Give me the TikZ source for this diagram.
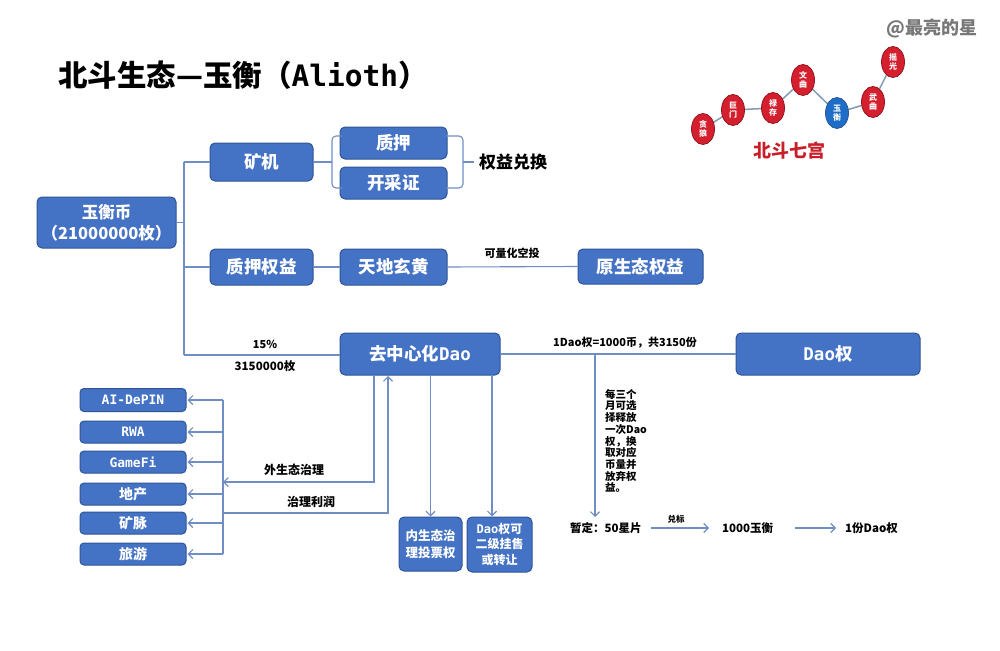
\documentclass[tikz,border=0pt]{standalone}
\usepackage{fontspec}
\setmainfont{Noto Sans CJK SC}
\newfontfamily\monof{DejaVu Sans Mono}
\usetikzlibrary{arrows.meta,shapes.geometric}
\definecolor{boxblue}{RGB}{68,114,196}
\definecolor{boxborder}{RGB}{47,85,151}
\definecolor{linec}{RGB}{112,142,196}
\definecolor{starred}{RGB}{212,32,46}
\definecolor{starborder}{RGB}{150,20,30}
\definecolor{starblue}{RGB}{30,110,200}
\definecolor{starline}{RGB}{130,155,180}
\definecolor{titlered}{RGB}{200,30,40}
\definecolor{wmgray}{RGB}{120,120,120}
\newcommand{\fsz}[1]{\fontsize{#1}{#1}\selectfont}
\newcommand{\mo}[1]{{\monof\bfseries #1}}
\tikzset{
  bbox/.style={draw=boxborder, line width=1pt, fill=boxblue, rounded corners=5pt, text=white, font=\bfseries, inner sep=0pt, align=center},
  conn/.style={draw=linec, line width=1.1pt},
  arr/.style={draw=linec, line width=1.1pt, -{Straight Barb[length=4.5pt,width=9pt]}},
  lbl/.style={font=\bfseries, text=black, inner sep=0pt},
  star/.style={ellipse, draw=starborder, line width=0.8pt, fill=starred, minimum width=23pt, minimum height=31pt, inner sep=0pt, text=white, font=\bfseries\fontsize{8}{9}\selectfont, align=center},
  starconn/.style={draw=starline, line width=1.5pt}
}
\begin{document}
\begin{tikzpicture}[x=1pt,y=-1pt]
\useasboundingbox[fill=white] (0,0) rectangle (1000,650);

% title and signature
\node[lbl, anchor=west] (title) at (58,75) {\fsz{29.5}北斗生态—玉衡（\mo{Alioth}）};
\node[font=\bfseries, text=wmgray, inner sep=0pt] (sig) at (932,28) {\fsz{18}@最亮的星};

% star chart
\draw[starline, line width=1.5pt] (703,129) -- (733,110) -- (773,108) -- (803,80) -- (837,113) -- (873,102) -- (893,62);
\node[star] (s1) at (703,129) {贪\\狼};
\node[star] (s2) at (733,110) {巨\\门};
\node[star] (s3) at (773,108) {禄\\存};
\node[star] (s4) at (803,80) {文\\曲};
\node[star, fill=starblue, draw=boxborder] (s5) at (837,113) {玉\\衡};
\node[star] (s6) at (873,102) {武\\曲};
\node[star] (s7) at (893,62) {摇\\光};
\node[font=\bfseries, text=titlered, inner sep=0pt] (bdqg) at (789,151) {\fsz{18}北斗七宫};

% main boxes
\node[bbox, minimum width=139pt, minimum height=51pt, font=\bfseries\fontsize{16.5}{21}\selectfont] (coin) at (106.5,222.5) {玉衡币\\（21000000枚）};
\node[bbox, minimum width=103pt, minimum height=38pt] (miner) at (261.5,162) {\fsz{17.5}矿机};
\node[bbox, minimum width=107pt, minimum height=32pt] (pledge) at (393.5,143) {\fsz{17.5}质押};
\node[bbox, minimum width=107pt, minimum height=32pt] (cert) at (393.5,183) {\fsz{17.5}开采证};
\node[bbox, minimum width=103pt, minimum height=36pt] (pright) at (261.5,267) {\fsz{17.5}质押权益};
\node[bbox, minimum width=107pt, minimum height=36pt] (tdxh) at (393.5,267) {\fsz{17.5}天地玄黄};
\node[bbox, minimum width=125pt, minimum height=35pt] (native) at (640.5,266.5) {\fsz{17.5}原生态权益};
\node[bbox, minimum width=160pt, minimum height=42pt] (dao) at (420,354) {\fsz{17.5}去中心化\mo{Dao}};
\node[bbox, minimum width=184pt, minimum height=42pt] (daoq) at (828,354) {\fsz{17.5}\mo{Dao}权};

% exchange label
\node[lbl, anchor=west] (exch) at (479,162) {\fsz{17}权益兑换};

% brackets
\draw[conn, rounded corners=4pt] (342,136) -- (332,136) -- (332,188) -- (342,188);
\draw[conn, rounded corners=4pt] (446,136) -- (463,136) -- (463,188) -- (446,188);
\coordinate (lb) at (332,162);
\coordinate (rb) at (463,162);
\draw[conn] (miner.east) -- (lb);
\draw[conn] (rb) -- (474,162);

% trunk
\coordinate (t1) at (184,162);
\coordinate (t2) at (184,267);
\coordinate (t3) at (184,355);
\draw[conn] (t1) -- (t3);
\draw[conn] (coin.east) -- (coin.east -| t1);
\draw[conn] (t1) -- (miner.west);
\draw[conn] (t2) -- (pright.west);
\draw[conn] (t3) -- (dao.west |- t3);
\node[lbl] (p15) at (265,344) {\fsz{11}15\%};
\node[lbl] (n315) at (265,366) {\fsz{11.5}3150000枚};

\draw[conn] (pright.east) -- (tdxh.west);
\draw[conn] (tdxh.east) -- (native.west);
\node[lbl] (kl) at (512,253) {\fsz{11}可量化空投};

% Dao to Dao权
\draw[conn] (dao.east) -- (daoq.west);
\node[lbl] (dlbl) at (625,343) {\fsz{11}1Dao权=1000币，共3150份};
\coordinate (d1) at (595,355);
\coordinate (d2) at (595,517);
\draw[arr] (d1) -- (d2);
\node[lbl, anchor=north west, align=left, font=\bfseries\fontsize{10.5}{11.7}\selectfont] (note) at (605,389) {每三个\\月可选\\择释放\\一次Dao\\权，换\\取对应\\币量并\\放弃权\\益。};

% bottom row
\node[lbl, anchor=west] (zd) at (570,528) {\fsz{11.5}暂定：50星片};
\node[lbl, anchor=west] (yh) at (722,528) {\fsz{11.5}1000玉衡};
\node[lbl, anchor=west] (fd) at (845,528) {\fsz{11.5}1份Dao权};
\coordinate (a1) at (651,528);
\coordinate (a1e) at (709,528);
\draw[arr] (a1) -- (a1e);
\node[lbl] (dbl) at (676,519) {\fsz{8.5}兑标};
\coordinate (a2) at (795,528);
\coordinate (a2e) at (836,528);
\draw[arr] (a2) -- (a2e);

% left column
\node[bbox, rounded corners=4pt, minimum width=106pt, minimum height=23pt] (ai) at (133,400) {\fsz{13}\mo{AI-DePIN}};
\node[bbox, rounded corners=4pt, minimum width=106pt, minimum height=22pt] (rwa) at (133,432) {\fsz{13}\mo{RWA}};
\node[bbox, rounded corners=4pt, minimum width=106pt, minimum height=22pt] (gf) at (133,462) {\fsz{13}\mo{GameFi}};
\node[bbox, rounded corners=4pt, minimum width=106pt, minimum height=22pt] (dc) at (133,494) {\fsz{14}地产};
\node[bbox, rounded corners=4pt, minimum width=106pt, minimum height=22pt] (km) at (133,523) {\fsz{14}矿脉};
\node[bbox, rounded corners=4pt, minimum width=106pt, minimum height=22pt] (ly) at (133,554) {\fsz{14}旅游};
\coordinate (v1) at (223,400);
\coordinate (v6) at (223,554);
\draw[conn] (v1) -- (v6);
\foreach \n in {ai,rwa,gf,dc,km,ly}{
  \draw[arr] (\n.east -| v1) -- ([xshift=1pt]\n.east);
}
\coordinate (g1) at (374,375);
\coordinate (g2) at (223,482);
\draw[arr] (g1) |- (g2);
\node[lbl] (wst) at (294,470) {\fsz{12}外生态治理};
\coordinate (r1) at (223,513);
\coordinate (r2) at (388,376);
\draw[arr] (r1) -| (r2);
\node[lbl] (zllr) at (311,502) {\fsz{12}治理利润};

% bottom boxes under Dao
\node[bbox, minimum width=63pt, minimum height=54pt, font=\bfseries\fontsize{12.5}{17}\selectfont] (inner) at (430.5,544) {内生态治\\理投票权};
\node[bbox, minimum width=65pt, minimum height=55pt, font=\bfseries\fontsize{12}{15.7}\selectfont] (sell) at (499.5,544.5) {\mo{Dao}权可\\二级挂售\\或转让};
\draw[arr] (dao.south -| inner.north) -- (inner.north);
\coordinate (s1a) at (492,375);
\draw[arr] (s1a) -- (sell.north -| s1a);
\end{tikzpicture}
\end{document}
